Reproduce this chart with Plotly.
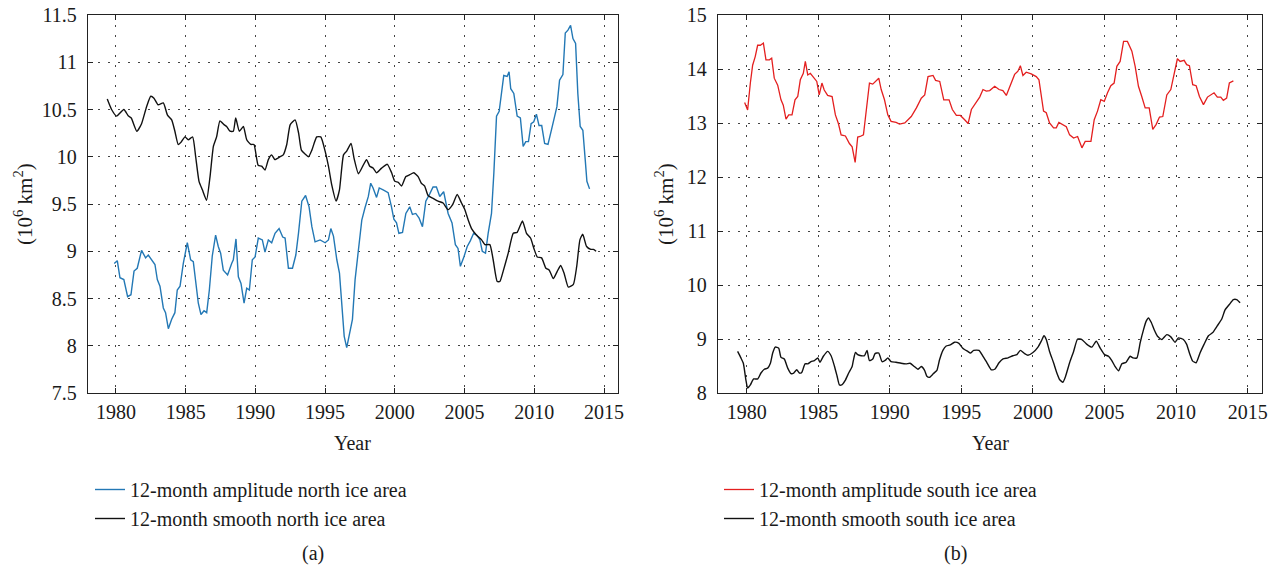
import plotly.graph_objects as go

# ---------------- data ----------------
north_smooth_year = [1979.38,1979.69,1980.05,1980.57,1980.9,1981.1,1981.5,1981.84,1982.2,1982.5,1982.73,1983.03,1983.4,1983.7,1984.0,1984.23,1984.47,1984.7,1984.95,1985.19,1985.5,1985.72,1985.96,1986.2,1986.5,1986.75,1986.99,1987.22,1987.46,1987.75,1987.94,1988.18,1988.42,1988.59,1988.85,1989.14,1989.38,1989.67,1989.9,1990.2,1990.45,1990.69,1990.93,1991.17,1991.4,1991.77,1992.0,1992.25,1992.5,1992.85,1993.1,1993.3,1993.56,1993.81,1994.05,1994.4,1994.69,1995.0,1995.24,1995.48,1995.79,1996.03,1996.32,1996.55,1996.86,1997.08,1997.39,1997.7,1997.97,1998.2,1998.44,1998.69,1999.05,1999.46,1999.77,2000.0,2000.24,2000.48,2000.79,2001.07,2001.36,2001.67,2001.9,2002.14,2002.38,2002.74,2003.1,2003.46,2003.82,2004.13,2004.47,2004.78,2005.02,2005.26,2005.5,2005.86,2006.22,2006.46,2006.81,2007.05,2007.34,2007.53,2007.77,2008.13,2008.49,2008.77,2009.15,2009.44,2009.73,2009.97,2010.21,2010.52,2010.83,2011.07,2011.36,2011.65,2011.89,2012.13,2012.44,2012.8,2013.04,2013.27,2013.47,2013.75,2014.05,2014.24,2014.43]
north_smooth_val = [10.61,10.50,10.43,10.50,10.43,10.41,10.27,10.35,10.53,10.64,10.62,10.55,10.57,10.44,10.39,10.27,10.13,10.16,10.21,10.18,10.21,10.0,9.74,9.65,9.54,9.79,10.11,10.21,10.38,10.34,10.32,10.27,10.27,10.41,10.27,10.32,10.18,10.13,10.13,9.91,9.90,9.86,9.97,10.02,9.97,10.0,10.02,10.13,10.34,10.39,10.25,10.07,10.03,10.0,10.07,10.21,10.21,10.06,9.90,9.70,9.53,9.65,10.02,10.06,10.14,9.98,9.82,9.90,9.97,9.90,9.88,9.83,9.88,9.92,9.83,9.74,9.73,9.69,9.79,9.81,9.83,9.79,9.72,9.69,9.59,9.56,9.53,9.51,9.44,9.49,9.60,9.51,9.44,9.33,9.24,9.17,9.12,9.07,9.07,8.91,8.68,8.68,8.79,8.98,9.19,9.20,9.32,9.19,9.14,9.03,8.94,8.93,8.82,8.80,8.71,8.79,8.85,8.77,8.62,8.65,8.84,9.12,9.18,9.05,9.02,9.02,9.0]

north_amp_year = [1979.88,1980.1,1980.29,1980.57,1980.84,1981.08,1981.3,1981.53,1981.84,1982.13,1982.32,1982.56,1982.8,1982.97,1983.16,1983.4,1983.56,1983.76,1984.0,1984.23,1984.4,1984.6,1984.83,1985.12,1985.36,1985.55,1985.74,1985.91,1986.1,1986.32,1986.51,1986.7,1986.91,1987.15,1987.34,1987.51,1987.7,1988.01,1988.3,1988.42,1988.61,1988.78,1988.97,1989.19,1989.38,1989.57,1989.78,1989.98,1990.21,1990.5,1990.69,1990.93,1991.17,1991.41,1991.7,1991.96,1992.13,1992.37,1992.66,1992.9,1993.09,1993.33,1993.6,1993.85,1994.05,1994.28,1994.64,1995.0,1995.24,1995.41,1995.6,1995.84,1996.03,1996.2,1996.37,1996.55,1996.74,1996.96,1997.15,1997.39,1997.63,1997.86,1998.1,1998.27,1998.44,1998.69,1998.88,1999.16,1999.52,1999.76,1999.93,2000.12,2000.29,2000.55,2000.79,2001.07,2001.26,2001.5,2001.74,2001.98,2002.22,2002.51,2002.74,2002.98,2003.22,2003.5,2003.82,2004.1,2004.34,2004.53,2004.7,2004.93,2005.19,2005.41,2005.65,2005.88,2006.1,2006.27,2006.5,2006.69,2006.93,2007.1,2007.29,2007.48,2007.64,2007.81,2008.05,2008.19,2008.31,2008.53,2008.77,2009.0,2009.2,2009.39,2009.58,2009.77,2009.96,2010.15,2010.34,2010.53,2010.74,2010.98,2011.22,2011.46,2011.62,2011.81,2012.05,2012.22,2012.41,2012.6,2012.77,2012.96,2013.12,2013.29,2013.48,2013.65,2013.77,2013.96]
north_amp_val = [8.87,8.90,8.72,8.70,8.52,8.54,8.79,8.82,9.01,8.93,8.96,8.91,8.86,8.70,8.63,8.40,8.35,8.18,8.28,8.35,8.59,8.63,8.87,9.09,8.91,8.89,8.66,8.45,8.33,8.37,8.35,8.59,8.95,9.17,9.05,8.98,8.80,8.75,8.87,8.91,9.13,8.73,8.66,8.45,8.61,8.59,8.91,8.94,9.14,9.12,8.99,9.12,9.09,9.19,9.24,9.15,9.14,8.82,8.82,8.96,9.19,9.53,9.59,9.47,9.26,9.10,9.12,9.09,9.12,9.24,9.16,8.91,8.77,8.38,8.10,7.98,8.13,8.28,8.70,9.03,9.33,9.46,9.58,9.72,9.67,9.57,9.67,9.65,9.62,9.47,9.34,9.30,9.19,9.20,9.40,9.47,9.39,9.40,9.35,9.26,9.53,9.61,9.68,9.68,9.58,9.63,9.40,9.30,9.07,9.03,8.84,8.93,9.05,9.11,9.19,9.17,9.12,9.0,8.98,9.19,9.40,9.83,10.43,10.48,10.67,10.86,10.85,10.90,10.72,10.67,10.43,10.41,10.11,10.16,10.16,10.35,10.37,10.45,10.33,10.33,10.14,10.13,10.28,10.44,10.53,10.81,10.87,11.31,11.34,11.39,11.25,11.20,10.67,10.32,10.28,9.97,9.74,9.66]

south_amp_year = [1979.86,1980.07,1980.26,1980.42,1980.6,1980.77,1980.96,1981.17,1981.35,1981.59,1981.75,1981.93,1982.17,1982.4,1982.56,1982.75,1982.94,1983.17,1983.38,1983.57,1983.75,1983.96,1984.1,1984.27,1984.45,1984.66,1984.9,1985.07,1985.26,1985.42,1985.66,1985.97,1986.2,1986.41,1986.6,1986.9,1987.18,1987.37,1987.58,1987.76,1987.93,1988.16,1988.35,1988.58,1988.81,1989.0,1989.23,1989.4,1989.63,1989.86,1990.09,1990.44,1990.68,1991.05,1991.5,1991.86,1992.2,1992.44,1992.67,1993.02,1993.2,1993.49,1993.77,1994.14,1994.37,1994.65,1994.93,1995.23,1995.47,1995.7,1995.93,1996.28,1996.51,1996.74,1996.98,1997.33,1997.63,1997.9,1998.14,1998.37,1998.72,1998.95,1999.12,1999.3,1999.53,1999.88,2000.23,2000.42,2000.58,2000.74,2000.93,2001.16,2001.44,2001.63,2001.81,2002.05,2002.33,2002.56,2002.84,2003.12,2003.42,2003.65,2004.05,2004.28,2004.51,2004.74,2004.98,2005.21,2005.44,2005.67,2005.86,2006.09,2006.33,2006.6,2006.91,2007.14,2007.37,2007.6,2007.84,2008.12,2008.37,2008.6,2008.84,2009.07,2009.35,2009.63,2009.86,2010.09,2010.28,2010.56,2010.74,2010.93,2011.16,2011.4,2011.63,2011.91,2012.19,2012.42,2012.65,2012.88,2013.12,2013.3,2013.53,2013.72,2014.0]
south_amp_val = [13.38,13.24,13.74,14.07,14.23,14.44,14.44,14.48,14.17,14.17,14.2,13.83,13.70,13.43,13.33,13.07,13.15,13.15,13.43,13.49,13.80,13.92,14.14,13.89,13.92,13.85,13.77,13.52,13.74,13.61,13.51,13.49,13.15,12.99,12.78,12.76,12.62,12.56,12.27,12.74,12.75,12.78,13.18,13.74,13.72,13.77,13.83,13.62,13.43,13.15,13.03,13.01,12.98,13.0,13.12,13.28,13.46,13.52,13.86,13.88,13.79,13.77,13.43,13.43,13.25,13.14,13.14,13.06,12.99,13.25,13.34,13.48,13.62,13.59,13.6,13.68,13.62,13.6,13.51,13.67,13.9,13.96,14.06,13.88,13.94,13.91,13.86,13.8,13.49,13.22,13.19,13.0,12.91,12.91,13.01,12.97,12.93,12.78,12.72,12.75,12.54,12.66,12.66,13.06,13.22,13.43,13.40,13.56,13.69,13.74,14.05,14.14,14.51,14.51,14.33,14.05,13.68,13.49,13.28,13.28,12.88,12.97,13.11,13.12,13.52,13.62,13.9,14.19,14.14,14.16,14.08,14.06,13.71,13.69,13.49,13.34,13.48,13.52,13.56,13.48,13.48,13.42,13.46,13.74,13.78]

south_smooth_year = [1979.37,1979.6,1979.77,1979.95,1980.07,1980.26,1980.49,1980.77,1981.0,1981.24,1981.47,1981.66,1981.82,1982.0,1982.24,1982.4,1982.63,1982.87,1983.1,1983.29,1983.5,1983.68,1983.85,1984.08,1984.27,1984.5,1984.73,1984.97,1985.12,1985.36,1985.66,1985.9,1986.13,1986.32,1986.48,1986.64,1986.9,1987.13,1987.37,1987.46,1987.6,1987.76,1988.0,1988.23,1988.41,1988.58,1988.81,1988.97,1989.23,1989.46,1989.7,1989.86,1990.09,1990.44,1990.79,1991.14,1991.42,1991.72,1991.96,1992.2,1992.43,1992.59,1992.77,1993.05,1993.29,1993.47,1993.71,1993.94,1994.22,1994.52,1994.83,1995.1,1995.45,1995.63,1995.86,1996.23,1996.51,1996.79,1997.09,1997.33,1997.63,1997.91,1998.26,1998.6,1998.88,1999.12,1999.42,1999.65,2000.0,2000.35,2000.58,2000.77,2000.93,2001.16,2001.44,2001.67,2001.86,2002.09,2002.28,2002.56,2002.84,2003.12,2003.42,2003.77,2004.12,2004.42,2004.7,2005.0,2005.28,2005.51,2005.74,2005.98,2006.21,2006.51,2006.79,2006.98,2007.26,2007.49,2007.72,2007.91,2008.07,2008.26,2008.47,2008.7,2009.0,2009.35,2009.63,2009.93,2010.16,2010.51,2010.74,2010.93,2011.16,2011.4,2011.67,2011.95,2012.26,2012.56,2012.84,2013.19,2013.42,2013.72,2014.0,2014.23,2014.47]
south_smooth_val = [8.77,8.65,8.55,8.24,8.09,8.15,8.26,8.26,8.37,8.44,8.46,8.55,8.74,8.85,8.83,8.66,8.63,8.46,8.36,8.37,8.43,8.37,8.38,8.54,8.54,8.58,8.60,8.65,8.57,8.68,8.77,8.69,8.50,8.31,8.15,8.15,8.24,8.37,8.49,8.61,8.75,8.71,8.69,8.69,8.79,8.60,8.63,8.73,8.74,8.58,8.61,8.65,8.58,8.57,8.55,8.54,8.55,8.49,8.44,8.49,8.42,8.31,8.29,8.36,8.42,8.61,8.79,8.87,8.89,8.94,8.92,8.83,8.77,8.74,8.79,8.79,8.68,8.56,8.43,8.44,8.56,8.63,8.65,8.69,8.71,8.79,8.73,8.70,8.75,8.85,8.96,9.06,8.99,8.77,8.56,8.37,8.25,8.20,8.31,8.56,8.77,9.0,8.99,8.90,8.85,8.96,8.83,8.71,8.68,8.60,8.49,8.41,8.54,8.57,8.68,8.65,8.65,8.93,9.17,9.33,9.39,9.31,9.17,9.05,8.99,9.08,9.04,8.94,9.02,8.99,8.90,8.74,8.59,8.56,8.74,8.90,9.06,9.12,9.23,9.37,9.54,9.64,9.73,9.73,9.67]

for a, b in [(north_smooth_year, north_smooth_val), (north_amp_year, north_amp_val),
             (south_amp_year, south_amp_val), (south_smooth_year, south_smooth_val)]:
    assert len(a) == len(b), (len(a), len(b))

x_ticks = [1980, 1985, 1990, 1995, 2000, 2005, 2010, 2015]
y_ticks_north = [7.5, 8, 8.5, 9, 9.5, 10, 10.5, 11, 11.5]
y_ticks_south = [8, 9, 10, 11, 12, 13, 14, 15]
y_tick_text_north = ["7.5", "8", "8.5", "9", "9.5", "10", "10.5", "11", "11.5"]

# ---------------- styling ----------------
W, H = 1276, 574
FONT = "Liberation Serif, Times New Roman, serif"
TXT = "#1a1a1a"
BLUE = "#2378b5"
RED = "#e41f1f"
BLACK = "#111111"

fig = go.Figure()
fig.add_trace(go.Scatter(x=north_amp_year, y=north_amp_val, mode="lines",
                         line=dict(color=BLUE, width=1.4),
                         name="12-month amplitude north ice area",
                         xaxis="x", yaxis="y", legend="legend"))
fig.add_trace(go.Scatter(x=north_smooth_year, y=north_smooth_val, mode="lines",
                         line=dict(color=BLACK, width=1.4, shape="spline", smoothing=0.5),
                         name="12-month smooth north ice area",
                         xaxis="x", yaxis="y", legend="legend"))
fig.add_trace(go.Scatter(x=south_amp_year, y=south_amp_val, mode="lines",
                         line=dict(color=RED, width=1.3),
                         name="12-month amplitude south ice area",
                         xaxis="x2", yaxis="y2", legend="legend2"))
fig.add_trace(go.Scatter(x=south_smooth_year, y=south_smooth_val, mode="lines",
                         line=dict(color=BLACK, width=1.4, shape="spline", smoothing=0.5),
                         name="12-month smooth south ice area",
                         xaxis="x2", yaxis="y2", legend="legend2"))

def px_x(p):
    return p / W

def px_y(p):
    return 1 - p / H

axis_common = dict(
    showline=True, linecolor="#222", linewidth=1.3, mirror="allticks",
    ticks="inside", ticklen=5, tickcolor="#222", tickwidth=1,
    showgrid=True, gridcolor="#444", gridwidth=1, griddash="1.5px,8.5px",
    zeroline=False, automargin=False,
    tickfont=dict(family=FONT, size=20, color=TXT),
)

fig.update_layout(
    width=W, height=H,
    paper_bgcolor="white", plot_bgcolor="white",
    margin=dict(l=0, r=0, t=0, b=0),
    showlegend=True,
    xaxis=dict(domain=[px_x(88), px_x(618)], range=[1978, 2016],
               tickvals=x_ticks, anchor="y", ticklabelstandoff=1, **axis_common),
    yaxis=dict(domain=[px_y(393), px_y(15)], range=[7.5, 11.5],
               tickvals=y_ticks_north, ticktext=y_tick_text_north, anchor="x",
               ticklabelstandoff=6, **axis_common),
    xaxis2=dict(domain=[px_x(718), px_x(1262)], range=[1978, 2016],
                tickvals=x_ticks, anchor="y2", ticklabelstandoff=1, **axis_common),
    yaxis2=dict(domain=[px_y(393), px_y(15)], range=[8, 15],
                tickvals=y_ticks_south, anchor="x2", ticklabelstandoff=6, **axis_common),
    legend=dict(x=px_x(90), y=px_y(470), xanchor="left", yanchor="top",
                bgcolor="rgba(0,0,0,0)", font=dict(family=FONT, size=20, color=TXT),
                itemwidth=30, tracegroupgap=0),
    legend2=dict(x=px_x(719), y=px_y(470), xanchor="left", yanchor="top",
                 bgcolor="rgba(0,0,0,0)", font=dict(family=FONT, size=20, color=TXT),
                 itemwidth=30, tracegroupgap=0),
)

ann_font = dict(family=FONT, size=20, color=TXT)
annotations = [
    dict(text="(10<sup>6</sup> km<sup>2</sup>)", x=px_x(24), y=px_y(204), textangle=-90,
         font=dict(family=FONT, size=21, color=TXT)),
    dict(text="(10<sup>6</sup> km<sup>2</sup>)", x=px_x(665), y=px_y(204), textangle=-90,
         font=dict(family=FONT, size=21, color=TXT)),
    dict(text="Year", x=px_x(353), y=px_y(443), font=ann_font),
    dict(text="Year", x=px_x(990), y=px_y(443), font=ann_font),
    dict(text="(a)", x=px_x(313), y=px_y(553), font=ann_font),
    dict(text="(b)", x=px_x(955), y=px_y(553), font=ann_font),
]
for a in annotations:
    fig.add_annotation(xref="paper", yref="paper", xanchor="center", yanchor="middle",
                       showarrow=False, **a)

# remove the browser's default 8px page margin so the figure fills the window exactly
fig.write_html("out.html",
               config={"displayModeBar": False},
               post_script="document.body.style.margin='0';document.body.style.overflow='hidden';")
